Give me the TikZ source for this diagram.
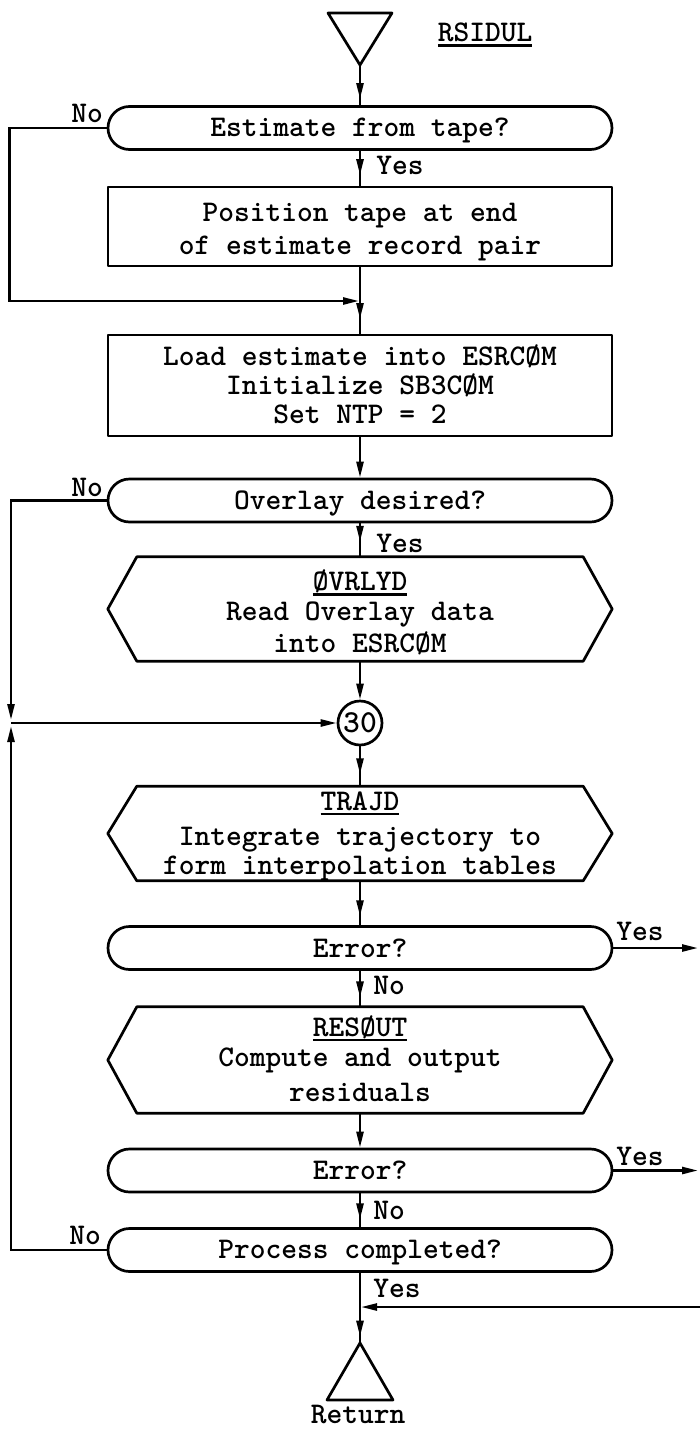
\documentclass[tikz,border=0pt]{standalone}
\usetikzlibrary{arrows.meta,decorations.markings}

% typewriter face used for every text
\newcommand\twfont{\fontsize{30}{30}\selectfont\ttfamily\bfseries}
% line strut: 24pt above the baseline, 6pt below; optional extra height on top
\newcommand\lnstrut[1][0pt]{\rule[-6pt]{0pt}{\dimexpr30pt+#1\relax}}
% heavy underline for subroutine names
\newcommand\undl[1]{\setbox0\hbox{#1}\leavevmode\rlap{\rule[-5pt]{\wd0}{2.4pt}}\box0}
% hexagonal outline around a rectangular node
\newcommand\hexframe[1]{%
  \draw[outline] ([xshift=29pt]#1.north west) -- ([xshift=-29pt]#1.north east)
    -- (#1.east) -- ([xshift=-29pt]#1.south east)
    -- ([xshift=29pt]#1.south west) -- (#1.west) -- cycle;}

\begin{document}
\begin{tikzpicture}[x=1pt,y=-1pt,
  >={Triangle[length=16pt,width=7pt]},
  outline/.style={line width=2.7pt,line join=round},
  conn/.style={line width=2.5pt},
  txt/.style={font=\twfont,align=center,inner sep=0pt},
  decision/.style={txt,draw,outline,rectangle,rounded corners=21.5pt,
                   minimum width=504pt,minimum height=43pt},
  procbox/.style={txt,draw,outline,rectangle,minimum width=504pt,minimum height=#1},
  hexnode/.style={txt,rectangle,minimum width=504pt,minimum height=#1},
  lbl/.style={font=\twfont,inner sep=0pt},
  midarr/.style={postaction={decorate},
                 decoration={markings,mark=at position #1 with {\arrow{>}}}},
]
\fill[white] (0,0) rectangle (700,1430);
\useasboundingbox (0,0) rectangle (700,1430);

% entry point
\coordinate (inTip) at (360,65);
\draw[outline] (328,13) -- (392,13) -- (inTip) -- cycle;
\node[lbl] (title) at (485,35) {\undl{RSIDUL}};

% main column
\node[decision] (q1) at (360,128) {\lnstrut Estimate from tape?};
\node[procbox=79pt] (pos) at (360,226.5)
  {\lnstrut[5pt]Position tape at end\\[2pt]\lnstrut of estimate record pair};
\coordinate (m1) at (360,301);
\node[procbox=101pt] (load) at (360,385.5)
  {\lnstrut Load estimate into ESRCØM\\[-1pt]\lnstrut Initialize SB3CØM\\[-1pt]\lnstrut Set NTP = 2};
\node[decision] (q2) at (360,500.5) {\lnstrut Overlay desired?};
\node[hexnode=104pt] (ovr) at (360,609)
  {\lnstrut[7pt]\undl{ØVRLYD}\\\lnstrut Read Overlay data\\\lnstrut into ESRCØM};
\hexframe{ovr}
\node[draw,outline,circle,minimum size=44pt,inner sep=0pt,
      font=\fontsize{32}{32}\selectfont\ttfamily\bfseries] (c30) at (360,723) {30};
\coordinate (j30) at (11,723);
\node[hexnode=93pt] (traj) at (360,833.5)
  {\lnstrut\undl{TRAJD}\\[5pt]\lnstrut Integrate trajectory to\\[-3pt]\lnstrut form interpolation tables};
\hexframe{traj}
\node[decision] (err1) at (360,948) {\lnstrut Error?};
\node[hexnode=106pt] (res) at (360,1060)
  {\lnstrut\undl{RESØUT}\\\lnstrut Compute and output\\[4pt]\lnstrut residuals};
\hexframe{res}
\node[decision] (err2) at (360,1170.5) {\lnstrut Error?};
\node[decision] (done) at (360,1250) {\lnstrut Process completed?};
\coordinate (m3) at (360,1307);

% exit point
\coordinate (outTip) at (360,1343);
\draw[outline] (outTip) -- (393,1400) -- (327,1400) -- cycle;
\node[lbl] (retl) at (358,1414) {Return};

% off-page ends on the right
\coordinate (e1out) at (700,948);
\coordinate (e2out) at (700,1170.5);
\coordinate (backin) at (700,1307);

% flow lines
\draw[conn,midarr=0.85] (inTip) -- (q1.north);
\draw[conn,midarr=0.7] (q1.south) -- (pos.north);
\draw[conn,midarr=0.78] (pos.south) -- (load.north);
\draw[conn,->,shorten >=1pt] (q1.west) -- ++(-97,0) |- (m1);
\draw[conn,->] (load.south) -- (q2.north);
\draw[conn,midarr=0.55] (q2.south) -- (ovr.north);
\draw[conn,->] (ovr.south) -- (c30.north);
\draw[conn,->,shorten >=3pt] (q2.west) -| (j30);
\draw[conn,->,shorten >=3pt] (done.west) -| (j30);
\draw[conn,->] (j30) -- (c30.west);
\draw[conn,midarr=0.7] (c30.south) -- (traj.north);
\draw[conn,midarr=0.8] (traj.south) -- (err1.north);
\draw[conn,midarr=0.74] (err1.south) -- (res.north);
\draw[conn,->] (res.south) -- (err2.north);
\draw[conn,midarr=0.77] (err2.south) -- (done.north);
\draw[conn,midarr=0.91] (done.south) -- (outTip);
\draw[conn,->,shorten >=2pt] (err1.east) -- (e1out);
\draw[conn,->,shorten >=2pt] (err2.east) -- (e2out);
\draw[conn,->,shorten >=1pt] (backin) -- (m3);

% branch labels
\node[lbl] (no1) at (87,113) {No};
\node[lbl] (yes1) at (400,165) {Yes};
\node[lbl] (no2) at (87,487) {No};
\node[lbl] (yes2) at (400,543) {Yes};
\node[lbl] (yes3) at (640,931) {Yes};
\node[lbl] (no3) at (389,985) {No};
\node[lbl] (yes4) at (640,1156) {Yes};
\node[lbl] (no4) at (389,1210) {No};
\node[lbl] (no5) at (85,1235) {No};
\node[lbl] (yes5) at (397,1288) {Yes};
\end{tikzpicture}
\end{document}
